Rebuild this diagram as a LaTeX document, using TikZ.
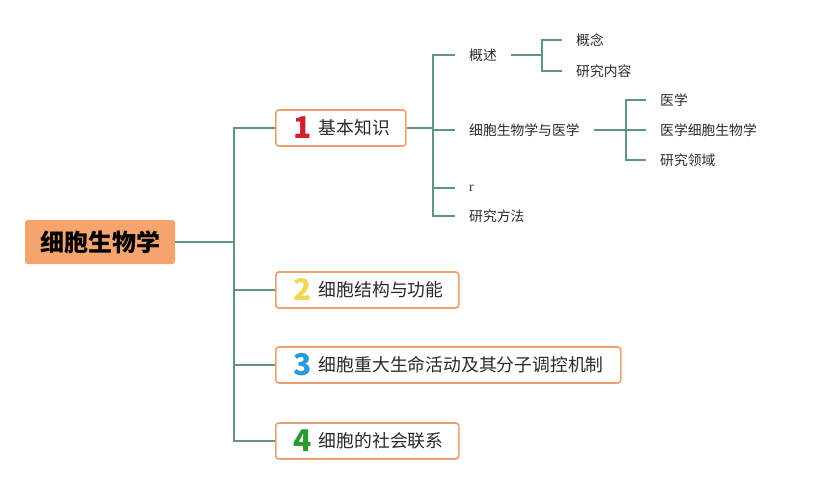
\documentclass[tikz,border=0pt]{standalone}
\usepackage{fontspec}
\setmainfont{Noto Sans CJK SC}
\newfontfamily\rfont{Liberation Serif}
\definecolor{teal1}{HTML}{5E9386}
\definecolor{boxline}{HTML}{E8A274}
\definecolor{rootfill}{HTML}{F4A46C}
\definecolor{numred}{HTML}{D2202E}
\definecolor{numyellow}{HTML}{F0D856}
\definecolor{numblue}{HTML}{2A9AD8}
\definecolor{numgreen}{HTML}{2A9A30}
\definecolor{txt}{HTML}{2A2A2A}
\tikzset{
  conn/.style={draw=teal1, line width=2pt},
  rootbox/.style={fill=rootfill, rounded corners=2.5pt, minimum width=150pt, minimum height=44pt, inner sep=0pt, font=\fontsize{24}{26}\selectfont\bfseries, text=black},
  mainbox/.style={draw=boxline, fill=white, line width=1.6pt, rounded corners=3pt, minimum height=36pt, anchor=west, align=left, inner xsep=18pt, inner ysep=0pt, font=\fontsize{17.8}{19}\selectfont, text=txt},
  leaf/.style={inner xsep=14pt, inner ysep=2pt, font=\fontsize{13.8}{15}\selectfont, text=txt},
}
\newcommand{\numd}[3]{\mbox{\makebox[25pt][l]{\smash{\raisebox{-3.5pt}{\textcolor{#1}{\fontsize{30}{30}\selectfont\bfseries #2}}}}#3}}
\begin{document}
\begin{tikzpicture}[x=1pt,y=-1pt]
\useasboundingbox (0,0) rectangle (819,484);
% root
\node[rootbox] (root) at (100,242) {细胞生物学};
% main boxes
\node[mainbox, text width=94pt] (b1) at (275,128) {\numd{numred}{1}{基本知识}};
\node[mainbox, text width=147pt] (b2) at (275,290) {\numd{numyellow}{2}{细胞结构与功能}};
\node[mainbox, text width=309pt] (b3) at (275,365) {\numd{numblue}{3}{细胞重大生命活动及其分子调控机制}};
\node[mainbox, text width=147pt] (b4) at (275,441) {\numd{numgreen}{4}{细胞的社会联系}};
% level 2
\node[leaf, anchor=west] (g1) at (455,55) {概述};
\node[leaf, anchor=west] (g2) at (455,130) {细胞生物学与医学};
\node[leaf, anchor=west] (g3) at (455,188) {\rfont r};
\node[leaf, anchor=west] (g4) at (455,216) {研究方法};
% level 3
\node[leaf, anchor=west] (h1) at (562,40) {概念};
\node[leaf, anchor=west] (h2) at (562,71) {研究内容};
\node[leaf, anchor=west] (k1) at (646,100) {医学};
\node[leaf, anchor=west] (k2) at (646,130) {医学细胞生物学};
\node[leaf, anchor=west] (k3) at (646,160) {研究领域};
% connectors root
\coordinate (j0) at (234,242);
\draw[conn] (root.east) -- (j0);
\draw[conn] (j0) |- (b1.west);
\draw[conn] (j0) |- (b2.west);
\draw[conn] (j0) |- (b3.west);
\draw[conn] (j0) |- (b4.west);
% connectors b1
\coordinate (j1) at (433,128);
\draw[conn] (b1.east) -- (j1);
\draw[conn] (j1) |- (g1.west);
\draw[conn] (j1) |- (g2.west);
\draw[conn] (j1) |- (g3.west);
\draw[conn] (j1) |- (g4.west);
% connectors g1
\coordinate (j2) at (542,55);
\draw[conn] (g1.east) -- (j2);
\draw[conn] (j2) |- (h1.west);
\draw[conn] (j2) |- (h2.west);
% connectors g2
\coordinate (j3) at (626,130);
\draw[conn] (g2.east) -- (j3);
\draw[conn] (j3) |- (k1.west);
\draw[conn] (j3) |- (k2.west);
\draw[conn] (j3) |- (k3.west);
\end{tikzpicture}
\end{document}
